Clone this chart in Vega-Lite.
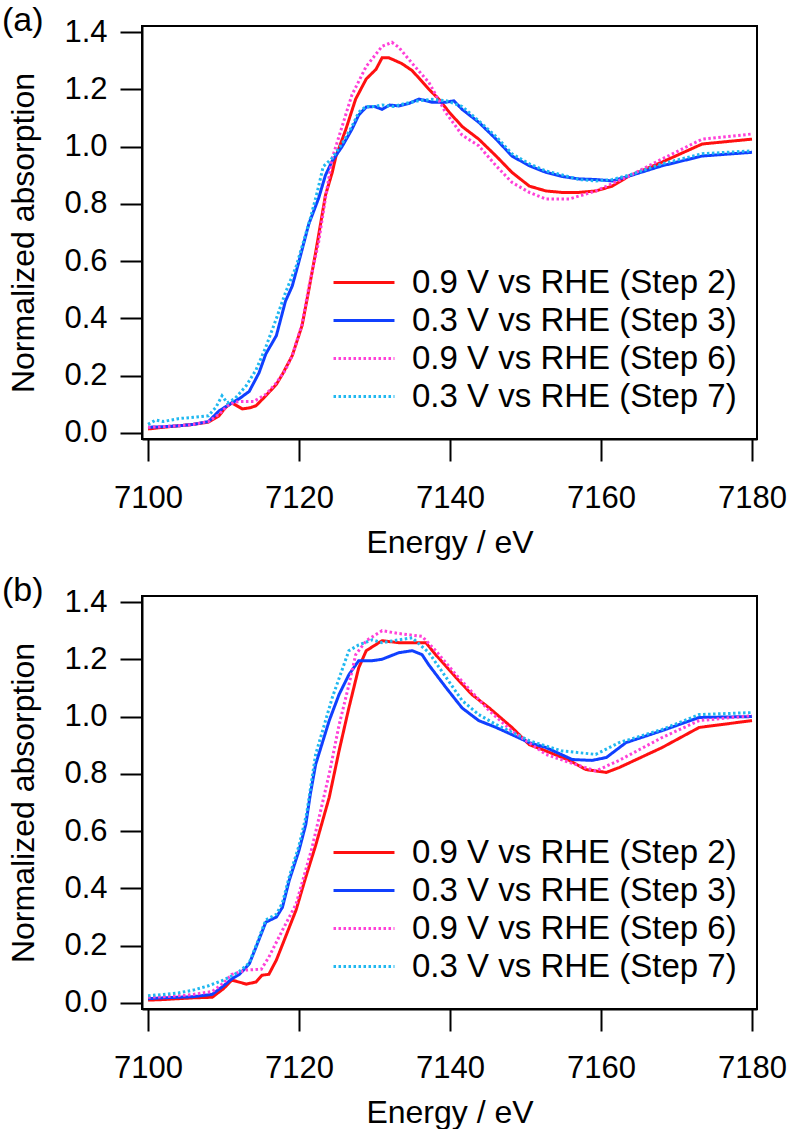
{
  "$schema": "https://vega.github.io/schema/vega-lite/v6.json",
  "autosize": {"type": "pad"},
  "padding": {"left": 0, "top": 3, "right": 0, "bottom": 0},
  "background": "white",
  "spacing": 14,
  "config": {
    "font": "Liberation Sans",
    "view": {"stroke": "black", "strokeWidth": 2},
    "axis": {
      "domainColor": "black", "domainWidth": 2,
      "tickColor": "black", "tickWidth": 2, "tickSize": 22,
      "labelColor": "black", "labelFontSize": 31, "labelFont": "Liberation Sans",
      "titleColor": "black", "titleFontSize": 32, "titleFont": "Liberation Sans", "titleFontWeight": "normal",
      "grid": false
    },
    "legend": {
      "labelFontSize": 33, "labelFont": "Liberation Sans", "labelColor": "black", "labelLimit": 600,
      "symbolType": "M-3,0H3", "symbolSize": 413, "symbolStrokeWidth": 3, "labelOffset": 31.5, "rowPadding": 4
    }
  },
  "datasets": {
    "a": [
      {"series":"0.9 V vs RHE (Step 2)","energy":7100,"absorption":0.014},
      {"series":"0.9 V vs RHE (Step 2)","energy":7102,"absorption":0.02},
      {"series":"0.9 V vs RHE (Step 2)","energy":7104,"absorption":0.025},
      {"series":"0.9 V vs RHE (Step 2)","energy":7106,"absorption":0.03},
      {"series":"0.9 V vs RHE (Step 2)","energy":7108,"absorption":0.038},
      {"series":"0.9 V vs RHE (Step 2)","energy":7109.4,"absorption":0.06},
      {"series":"0.9 V vs RHE (Step 2)","energy":7110.3,"absorption":0.09},
      {"series":"0.9 V vs RHE (Step 2)","energy":7111.1,"absorption":0.105},
      {"series":"0.9 V vs RHE (Step 2)","energy":7112.5,"absorption":0.084},
      {"series":"0.9 V vs RHE (Step 2)","energy":7113.5,"absorption":0.088},
      {"series":"0.9 V vs RHE (Step 2)","energy":7114.3,"absorption":0.095},
      {"series":"0.9 V vs RHE (Step 2)","energy":7115.6,"absorption":0.13},
      {"series":"0.9 V vs RHE (Step 2)","energy":7117,"absorption":0.17},
      {"series":"0.9 V vs RHE (Step 2)","energy":7117.8,"absorption":0.205},
      {"series":"0.9 V vs RHE (Step 2)","energy":7119.1,"absorption":0.27},
      {"series":"0.9 V vs RHE (Step 2)","energy":7120.4,"absorption":0.375},
      {"series":"0.9 V vs RHE (Step 2)","energy":7121.3,"absorption":0.5},
      {"series":"0.9 V vs RHE (Step 2)","energy":7122.2,"absorption":0.63},
      {"series":"0.9 V vs RHE (Step 2)","energy":7123.5,"absorption":0.83},
      {"series":"0.9 V vs RHE (Step 2)","energy":7124.4,"absorption":0.91},
      {"series":"0.9 V vs RHE (Step 2)","energy":7124.9,"absorption":0.967},
      {"series":"0.9 V vs RHE (Step 2)","energy":7126.2,"absorption":1.06},
      {"series":"0.9 V vs RHE (Step 2)","energy":7127.5,"absorption":1.166},
      {"series":"0.9 V vs RHE (Step 2)","energy":7128.9,"absorption":1.236},
      {"series":"0.9 V vs RHE (Step 2)","energy":7130.2,"absorption":1.27},
      {"series":"0.9 V vs RHE (Step 2)","energy":7131,"absorption":1.31},
      {"series":"0.9 V vs RHE (Step 2)","energy":7131.9,"absorption":1.31},
      {"series":"0.9 V vs RHE (Step 2)","energy":7133.6,"absorption":1.29},
      {"series":"0.9 V vs RHE (Step 2)","energy":7135,"absorption":1.265},
      {"series":"0.9 V vs RHE (Step 2)","energy":7137.2,"absorption":1.2},
      {"series":"0.9 V vs RHE (Step 2)","energy":7138.5,"absorption":1.166},
      {"series":"0.9 V vs RHE (Step 2)","energy":7139.9,"absorption":1.12},
      {"series":"0.9 V vs RHE (Step 2)","energy":7141.6,"absorption":1.07},
      {"series":"0.9 V vs RHE (Step 2)","energy":7143.8,"absorption":1.026},
      {"series":"0.9 V vs RHE (Step 2)","energy":7146.1,"absorption":0.967},
      {"series":"0.9 V vs RHE (Step 2)","energy":7148.2,"absorption":0.91},
      {"series":"0.9 V vs RHE (Step 2)","energy":7150.5,"absorption":0.862},
      {"series":"0.9 V vs RHE (Step 2)","energy":7152.7,"absorption":0.845},
      {"series":"0.9 V vs RHE (Step 2)","energy":7154.8,"absorption":0.84},
      {"series":"0.9 V vs RHE (Step 2)","energy":7157.1,"absorption":0.84},
      {"series":"0.9 V vs RHE (Step 2)","energy":7159.3,"absorption":0.845},
      {"series":"0.9 V vs RHE (Step 2)","energy":7161.5,"absorption":0.862},
      {"series":"0.9 V vs RHE (Step 2)","energy":7163.7,"absorption":0.897},
      {"series":"0.9 V vs RHE (Step 2)","energy":7168.1,"absorption":0.946},
      {"series":"0.9 V vs RHE (Step 2)","energy":7173.4,"absorption":1.009},
      {"series":"0.9 V vs RHE (Step 2)","energy":7180,"absorption":1.026},

      {"series":"0.3 V vs RHE (Step 3)","energy":7100,"absorption":0.02},
      {"series":"0.3 V vs RHE (Step 3)","energy":7102,"absorption":0.022},
      {"series":"0.3 V vs RHE (Step 3)","energy":7104,"absorption":0.025},
      {"series":"0.3 V vs RHE (Step 3)","energy":7106,"absorption":0.03},
      {"series":"0.3 V vs RHE (Step 3)","energy":7108,"absorption":0.04},
      {"series":"0.3 V vs RHE (Step 3)","energy":7109.4,"absorption":0.077},
      {"series":"0.3 V vs RHE (Step 3)","energy":7111.1,"absorption":0.105},
      {"series":"0.3 V vs RHE (Step 3)","energy":7112.1,"absorption":0.12},
      {"series":"0.3 V vs RHE (Step 3)","energy":7113.4,"absorption":0.145},
      {"series":"0.3 V vs RHE (Step 3)","energy":7114.7,"absorption":0.21},
      {"series":"0.3 V vs RHE (Step 3)","energy":7115.6,"absorption":0.276},
      {"series":"0.3 V vs RHE (Step 3)","energy":7117,"absorption":0.34},
      {"series":"0.3 V vs RHE (Step 3)","energy":7118.2,"absorption":0.46},
      {"series":"0.3 V vs RHE (Step 3)","energy":7119.1,"absorption":0.513},
      {"series":"0.3 V vs RHE (Step 3)","energy":7120,"absorption":0.6},
      {"series":"0.3 V vs RHE (Step 3)","energy":7121.3,"absorption":0.73},
      {"series":"0.3 V vs RHE (Step 3)","energy":7122.6,"absorption":0.82},
      {"series":"0.3 V vs RHE (Step 3)","energy":7123.5,"absorption":0.9},
      {"series":"0.3 V vs RHE (Step 3)","energy":7124.4,"absorption":0.95},
      {"series":"0.3 V vs RHE (Step 3)","energy":7125.7,"absorption":1.0},
      {"series":"0.3 V vs RHE (Step 3)","energy":7127,"absorption":1.06},
      {"series":"0.3 V vs RHE (Step 3)","energy":7127.9,"absorption":1.11},
      {"series":"0.3 V vs RHE (Step 3)","energy":7128.9,"absorption":1.138},
      {"series":"0.3 V vs RHE (Step 3)","energy":7130,"absorption":1.14},
      {"series":"0.3 V vs RHE (Step 3)","energy":7131,"absorption":1.13},
      {"series":"0.3 V vs RHE (Step 3)","energy":7132,"absorption":1.145},
      {"series":"0.3 V vs RHE (Step 3)","energy":7133.2,"absorption":1.142},
      {"series":"0.3 V vs RHE (Step 3)","energy":7134.5,"absorption":1.15},
      {"series":"0.3 V vs RHE (Step 3)","energy":7135.9,"absorption":1.166},
      {"series":"0.3 V vs RHE (Step 3)","energy":7137.6,"absorption":1.155},
      {"series":"0.3 V vs RHE (Step 3)","energy":7139.5,"absorption":1.155},
      {"series":"0.3 V vs RHE (Step 3)","energy":7140.5,"absorption":1.16},
      {"series":"0.3 V vs RHE (Step 3)","energy":7141.6,"absorption":1.13},
      {"series":"0.3 V vs RHE (Step 3)","energy":7143.8,"absorption":1.085},
      {"series":"0.3 V vs RHE (Step 3)","energy":7146.1,"absorption":1.026},
      {"series":"0.3 V vs RHE (Step 3)","energy":7148.2,"absorption":0.967},
      {"series":"0.3 V vs RHE (Step 3)","energy":7150.5,"absorption":0.933},
      {"series":"0.3 V vs RHE (Step 3)","energy":7152.7,"absorption":0.91},
      {"series":"0.3 V vs RHE (Step 3)","energy":7155,"absorption":0.895},
      {"series":"0.3 V vs RHE (Step 3)","energy":7157.1,"absorption":0.887},
      {"series":"0.3 V vs RHE (Step 3)","energy":7159.3,"absorption":0.885},
      {"series":"0.3 V vs RHE (Step 3)","energy":7161.5,"absorption":0.88},
      {"series":"0.3 V vs RHE (Step 3)","energy":7163.7,"absorption":0.897},
      {"series":"0.3 V vs RHE (Step 3)","energy":7168.1,"absorption":0.933},
      {"series":"0.3 V vs RHE (Step 3)","energy":7173.4,"absorption":0.967},
      {"series":"0.3 V vs RHE (Step 3)","energy":7180,"absorption":0.98},

      {"series":"0.9 V vs RHE (Step 6)","energy":7100,"absorption":0.02},
      {"series":"0.9 V vs RHE (Step 6)","energy":7102,"absorption":0.022},
      {"series":"0.9 V vs RHE (Step 6)","energy":7104,"absorption":0.025},
      {"series":"0.9 V vs RHE (Step 6)","energy":7106,"absorption":0.03},
      {"series":"0.9 V vs RHE (Step 6)","energy":7108,"absorption":0.04},
      {"series":"0.9 V vs RHE (Step 6)","energy":7109.4,"absorption":0.065},
      {"series":"0.9 V vs RHE (Step 6)","energy":7110.5,"absorption":0.095},
      {"series":"0.9 V vs RHE (Step 6)","energy":7111.5,"absorption":0.108},
      {"series":"0.9 V vs RHE (Step 6)","energy":7112.5,"absorption":0.11},
      {"series":"0.9 V vs RHE (Step 6)","energy":7114,"absorption":0.11},
      {"series":"0.9 V vs RHE (Step 6)","energy":7115.6,"absorption":0.135},
      {"series":"0.9 V vs RHE (Step 6)","energy":7117,"absorption":0.175},
      {"series":"0.9 V vs RHE (Step 6)","energy":7118.2,"absorption":0.22},
      {"series":"0.9 V vs RHE (Step 6)","energy":7119.1,"absorption":0.27},
      {"series":"0.9 V vs RHE (Step 6)","energy":7120.4,"absorption":0.38},
      {"series":"0.9 V vs RHE (Step 6)","energy":7121.3,"absorption":0.51},
      {"series":"0.9 V vs RHE (Step 6)","energy":7122.6,"absorption":0.667},
      {"series":"0.9 V vs RHE (Step 6)","energy":7123.5,"absorption":0.82},
      {"series":"0.9 V vs RHE (Step 6)","energy":7124.4,"absorption":0.96},
      {"series":"0.9 V vs RHE (Step 6)","energy":7125.7,"absorption":1.07},
      {"series":"0.9 V vs RHE (Step 6)","energy":7127,"absorption":1.18},
      {"series":"0.9 V vs RHE (Step 6)","energy":7128.9,"absorption":1.28},
      {"series":"0.9 V vs RHE (Step 6)","energy":7131,"absorption":1.35},
      {"series":"0.9 V vs RHE (Step 6)","energy":7132.3,"absorption":1.364},
      {"series":"0.9 V vs RHE (Step 6)","energy":7133.2,"absorption":1.347},
      {"series":"0.9 V vs RHE (Step 6)","energy":7135,"absorption":1.29},
      {"series":"0.9 V vs RHE (Step 6)","energy":7137.2,"absorption":1.224},
      {"series":"0.9 V vs RHE (Step 6)","energy":7139.4,"absorption":1.12},
      {"series":"0.9 V vs RHE (Step 6)","energy":7141.6,"absorption":1.04},
      {"series":"0.9 V vs RHE (Step 6)","energy":7143.8,"absorption":1.003},
      {"series":"0.9 V vs RHE (Step 6)","energy":7146.1,"absorption":0.933},
      {"series":"0.9 V vs RHE (Step 6)","energy":7148.2,"absorption":0.875},
      {"series":"0.9 V vs RHE (Step 6)","energy":7150.5,"absorption":0.84},
      {"series":"0.9 V vs RHE (Step 6)","energy":7152.7,"absorption":0.817},
      {"series":"0.9 V vs RHE (Step 6)","energy":7155.8,"absorption":0.817},
      {"series":"0.9 V vs RHE (Step 6)","energy":7159.3,"absorption":0.845},
      {"series":"0.9 V vs RHE (Step 6)","energy":7163.7,"absorption":0.897},
      {"series":"0.9 V vs RHE (Step 6)","energy":7168.1,"absorption":0.957},
      {"series":"0.9 V vs RHE (Step 6)","energy":7173.4,"absorption":1.026},
      {"series":"0.9 V vs RHE (Step 6)","energy":7180,"absorption":1.044},

      {"series":"0.3 V vs RHE (Step 7)","energy":7100,"absorption":0.03},
      {"series":"0.3 V vs RHE (Step 7)","energy":7101,"absorption":0.045},
      {"series":"0.3 V vs RHE (Step 7)","energy":7102,"absorption":0.04},
      {"series":"0.3 V vs RHE (Step 7)","energy":7104,"absorption":0.05},
      {"series":"0.3 V vs RHE (Step 7)","energy":7106,"absorption":0.055},
      {"series":"0.3 V vs RHE (Step 7)","energy":7108,"absorption":0.06},
      {"series":"0.3 V vs RHE (Step 7)","energy":7109,"absorption":0.09},
      {"series":"0.3 V vs RHE (Step 7)","energy":7109.8,"absorption":0.13},
      {"series":"0.3 V vs RHE (Step 7)","energy":7110.5,"absorption":0.105},
      {"series":"0.3 V vs RHE (Step 7)","energy":7111.5,"absorption":0.12},
      {"series":"0.3 V vs RHE (Step 7)","energy":7113,"absorption":0.165},
      {"series":"0.3 V vs RHE (Step 7)","energy":7114.3,"absorption":0.22},
      {"series":"0.3 V vs RHE (Step 7)","energy":7115.6,"absorption":0.3},
      {"series":"0.3 V vs RHE (Step 7)","energy":7117,"absorption":0.4},
      {"series":"0.3 V vs RHE (Step 7)","energy":7118.2,"absorption":0.49},
      {"series":"0.3 V vs RHE (Step 7)","energy":7119.6,"absorption":0.58},
      {"series":"0.3 V vs RHE (Step 7)","energy":7120.5,"absorption":0.66},
      {"series":"0.3 V vs RHE (Step 7)","energy":7121.5,"absorption":0.75},
      {"series":"0.3 V vs RHE (Step 7)","energy":7122.4,"absorption":0.84},
      {"series":"0.3 V vs RHE (Step 7)","energy":7123.2,"absorption":0.93},
      {"series":"0.3 V vs RHE (Step 7)","energy":7124.4,"absorption":0.96},
      {"series":"0.3 V vs RHE (Step 7)","energy":7125.7,"absorption":1.01},
      {"series":"0.3 V vs RHE (Step 7)","energy":7127,"absorption":1.07},
      {"series":"0.3 V vs RHE (Step 7)","energy":7127.9,"absorption":1.12},
      {"series":"0.3 V vs RHE (Step 7)","energy":7128.9,"absorption":1.14},
      {"series":"0.3 V vs RHE (Step 7)","energy":7130,"absorption":1.14},
      {"series":"0.3 V vs RHE (Step 7)","energy":7131,"absorption":1.145},
      {"series":"0.3 V vs RHE (Step 7)","energy":7132.5,"absorption":1.14},
      {"series":"0.3 V vs RHE (Step 7)","energy":7134,"absorption":1.15},
      {"series":"0.3 V vs RHE (Step 7)","energy":7135.9,"absorption":1.16},
      {"series":"0.3 V vs RHE (Step 7)","energy":7137.6,"absorption":1.165},
      {"series":"0.3 V vs RHE (Step 7)","energy":7139.5,"absorption":1.16},
      {"series":"0.3 V vs RHE (Step 7)","energy":7141.6,"absorption":1.14},
      {"series":"0.3 V vs RHE (Step 7)","energy":7143.8,"absorption":1.09},
      {"series":"0.3 V vs RHE (Step 7)","energy":7146.1,"absorption":1.035},
      {"series":"0.3 V vs RHE (Step 7)","energy":7148.2,"absorption":0.975},
      {"series":"0.3 V vs RHE (Step 7)","energy":7150.5,"absorption":0.94},
      {"series":"0.3 V vs RHE (Step 7)","energy":7152.7,"absorption":0.915},
      {"series":"0.3 V vs RHE (Step 7)","energy":7155,"absorption":0.9},
      {"series":"0.3 V vs RHE (Step 7)","energy":7157.1,"absorption":0.885},
      {"series":"0.3 V vs RHE (Step 7)","energy":7159.3,"absorption":0.88},
      {"series":"0.3 V vs RHE (Step 7)","energy":7161.5,"absorption":0.885},
      {"series":"0.3 V vs RHE (Step 7)","energy":7163.7,"absorption":0.9},
      {"series":"0.3 V vs RHE (Step 7)","energy":7168.1,"absorption":0.94},
      {"series":"0.3 V vs RHE (Step 7)","energy":7173.4,"absorption":0.975},
      {"series":"0.3 V vs RHE (Step 7)","energy":7180,"absorption":0.985}
    ],
    "b": [
      {"series":"0.9 V vs RHE (Step 2)","energy":7100,"absorption":0.01},
      {"series":"0.9 V vs RHE (Step 2)","energy":7102,"absorption":0.012},
      {"series":"0.9 V vs RHE (Step 2)","energy":7104,"absorption":0.015},
      {"series":"0.9 V vs RHE (Step 2)","energy":7106,"absorption":0.018},
      {"series":"0.9 V vs RHE (Step 2)","energy":7108.5,"absorption":0.02},
      {"series":"0.9 V vs RHE (Step 2)","energy":7110,"absorption":0.05},
      {"series":"0.9 V vs RHE (Step 2)","energy":7111.1,"absorption":0.08},
      {"series":"0.9 V vs RHE (Step 2)","energy":7113,"absorption":0.066},
      {"series":"0.9 V vs RHE (Step 2)","energy":7114.3,"absorption":0.073},
      {"series":"0.9 V vs RHE (Step 2)","energy":7115.1,"absorption":0.097},
      {"series":"0.9 V vs RHE (Step 2)","energy":7116,"absorption":0.1},
      {"series":"0.9 V vs RHE (Step 2)","energy":7117,"absorption":0.15},
      {"series":"0.9 V vs RHE (Step 2)","energy":7118.2,"absorption":0.23},
      {"series":"0.9 V vs RHE (Step 2)","energy":7119.6,"absorption":0.324},
      {"series":"0.9 V vs RHE (Step 2)","energy":7120.9,"absorption":0.44},
      {"series":"0.9 V vs RHE (Step 2)","energy":7122.2,"absorption":0.55},
      {"series":"0.9 V vs RHE (Step 2)","energy":7124,"absorption":0.718},
      {"series":"0.9 V vs RHE (Step 2)","energy":7125.3,"absorption":0.88},
      {"series":"0.9 V vs RHE (Step 2)","energy":7126.6,"absorption":1.03},
      {"series":"0.9 V vs RHE (Step 2)","energy":7127.9,"absorption":1.17},
      {"series":"0.9 V vs RHE (Step 2)","energy":7128.9,"absorption":1.23},
      {"series":"0.9 V vs RHE (Step 2)","energy":7131,"absorption":1.265},
      {"series":"0.9 V vs RHE (Step 2)","energy":7133.2,"absorption":1.258},
      {"series":"0.9 V vs RHE (Step 2)","energy":7136.8,"absorption":1.258},
      {"series":"0.9 V vs RHE (Step 2)","energy":7138.1,"absorption":1.216},
      {"series":"0.9 V vs RHE (Step 2)","energy":7140.8,"absorption":1.136},
      {"series":"0.9 V vs RHE (Step 2)","energy":7142.9,"absorption":1.077},
      {"series":"0.9 V vs RHE (Step 2)","energy":7145.2,"absorption":1.03},
      {"series":"0.9 V vs RHE (Step 2)","energy":7148.2,"absorption":0.962},
      {"series":"0.9 V vs RHE (Step 2)","energy":7150.5,"absorption":0.902},
      {"series":"0.9 V vs RHE (Step 2)","energy":7152.7,"absorption":0.88},
      {"series":"0.9 V vs RHE (Step 2)","energy":7155.8,"absorption":0.847},
      {"series":"0.9 V vs RHE (Step 2)","energy":7158,"absorption":0.815},
      {"series":"0.9 V vs RHE (Step 2)","energy":7160.7,"absorption":0.805},
      {"series":"0.9 V vs RHE (Step 2)","energy":7162.4,"absorption":0.822},
      {"series":"0.9 V vs RHE (Step 2)","energy":7168.1,"absorption":0.892},
      {"series":"0.9 V vs RHE (Step 2)","energy":7173,"absorption":0.962},
      {"series":"0.9 V vs RHE (Step 2)","energy":7180,"absorption":0.986},

      {"series":"0.3 V vs RHE (Step 3)","energy":7100,"absorption":0.015},
      {"series":"0.3 V vs RHE (Step 3)","energy":7102,"absorption":0.018},
      {"series":"0.3 V vs RHE (Step 3)","energy":7104,"absorption":0.02},
      {"series":"0.3 V vs RHE (Step 3)","energy":7106,"absorption":0.022},
      {"series":"0.3 V vs RHE (Step 3)","energy":7108.5,"absorption":0.03},
      {"series":"0.3 V vs RHE (Step 3)","energy":7110,"absorption":0.06},
      {"series":"0.3 V vs RHE (Step 3)","energy":7111.1,"absorption":0.084},
      {"series":"0.3 V vs RHE (Step 3)","energy":7112.1,"absorption":0.1},
      {"series":"0.3 V vs RHE (Step 3)","energy":7113.4,"absorption":0.136},
      {"series":"0.3 V vs RHE (Step 3)","energy":7114.3,"absorption":0.195},
      {"series":"0.3 V vs RHE (Step 3)","energy":7115.6,"absorption":0.282},
      {"series":"0.3 V vs RHE (Step 3)","energy":7117,"absorption":0.3},
      {"series":"0.3 V vs RHE (Step 3)","energy":7117.8,"absorption":0.334},
      {"series":"0.3 V vs RHE (Step 3)","energy":7118.7,"absorption":0.428},
      {"series":"0.3 V vs RHE (Step 3)","energy":7120,"absorption":0.533},
      {"series":"0.3 V vs RHE (Step 3)","energy":7120.9,"absorption":0.624},
      {"series":"0.3 V vs RHE (Step 3)","energy":7121.5,"absorption":0.73},
      {"series":"0.3 V vs RHE (Step 3)","energy":7122.2,"absorption":0.833},
      {"series":"0.3 V vs RHE (Step 3)","energy":7124,"absorption":0.986},
      {"series":"0.3 V vs RHE (Step 3)","energy":7125.3,"absorption":1.077},
      {"series":"0.3 V vs RHE (Step 3)","energy":7126.6,"absorption":1.146},
      {"series":"0.3 V vs RHE (Step 3)","energy":7127.9,"absorption":1.195},
      {"series":"0.3 V vs RHE (Step 3)","energy":7129.7,"absorption":1.195},
      {"series":"0.3 V vs RHE (Step 3)","energy":7131,"absorption":1.2},
      {"series":"0.3 V vs RHE (Step 3)","energy":7133.2,"absorption":1.223},
      {"series":"0.3 V vs RHE (Step 3)","energy":7135,"absorption":1.23},
      {"series":"0.3 V vs RHE (Step 3)","energy":7136.3,"absorption":1.216},
      {"series":"0.3 V vs RHE (Step 3)","energy":7137.2,"absorption":1.18},
      {"series":"0.3 V vs RHE (Step 3)","energy":7139.5,"absorption":1.1},
      {"series":"0.3 V vs RHE (Step 3)","energy":7141.6,"absorption":1.03},
      {"series":"0.3 V vs RHE (Step 3)","energy":7143.8,"absorption":0.986},
      {"series":"0.3 V vs RHE (Step 3)","energy":7146.1,"absorption":0.962},
      {"series":"0.3 V vs RHE (Step 3)","energy":7148.2,"absorption":0.937},
      {"series":"0.3 V vs RHE (Step 3)","energy":7150.5,"absorption":0.909},
      {"series":"0.3 V vs RHE (Step 3)","energy":7152.7,"absorption":0.892},
      {"series":"0.3 V vs RHE (Step 3)","energy":7156.2,"absorption":0.85},
      {"series":"0.3 V vs RHE (Step 3)","energy":7158.8,"absorption":0.847},
      {"series":"0.3 V vs RHE (Step 3)","energy":7160.7,"absorption":0.857},
      {"series":"0.3 V vs RHE (Step 3)","energy":7163.3,"absorption":0.909},
      {"series":"0.3 V vs RHE (Step 3)","energy":7168.1,"absorption":0.951},
      {"series":"0.3 V vs RHE (Step 3)","energy":7173,"absorption":0.997},
      {"series":"0.3 V vs RHE (Step 3)","energy":7180,"absorption":1.0},

      {"series":"0.9 V vs RHE (Step 6)","energy":7100,"absorption":0.02},
      {"series":"0.9 V vs RHE (Step 6)","energy":7102,"absorption":0.022},
      {"series":"0.9 V vs RHE (Step 6)","energy":7104,"absorption":0.025},
      {"series":"0.9 V vs RHE (Step 6)","energy":7106,"absorption":0.03},
      {"series":"0.9 V vs RHE (Step 6)","energy":7108.5,"absorption":0.04},
      {"series":"0.9 V vs RHE (Step 6)","energy":7110,"absorption":0.07},
      {"series":"0.9 V vs RHE (Step 6)","energy":7111.1,"absorption":0.1},
      {"series":"0.9 V vs RHE (Step 6)","energy":7113,"absorption":0.115},
      {"series":"0.9 V vs RHE (Step 6)","energy":7115,"absorption":0.118},
      {"series":"0.9 V vs RHE (Step 6)","energy":7116,"absorption":0.16},
      {"series":"0.9 V vs RHE (Step 6)","energy":7117.8,"absorption":0.254},
      {"series":"0.9 V vs RHE (Step 6)","energy":7119.6,"absorption":0.345},
      {"series":"0.9 V vs RHE (Step 6)","energy":7121.7,"absorption":0.54},
      {"series":"0.9 V vs RHE (Step 6)","energy":7124,"absorption":0.8},
      {"series":"0.9 V vs RHE (Step 6)","energy":7125.3,"absorption":0.97},
      {"series":"0.9 V vs RHE (Step 6)","energy":7126.6,"absorption":1.11},
      {"series":"0.9 V vs RHE (Step 6)","energy":7127.5,"absorption":1.216},
      {"series":"0.9 V vs RHE (Step 6)","energy":7128.9,"absorption":1.265},
      {"series":"0.9 V vs RHE (Step 6)","energy":7131,"absorption":1.3},
      {"series":"0.9 V vs RHE (Step 6)","energy":7133.2,"absorption":1.29},
      {"series":"0.9 V vs RHE (Step 6)","energy":7136.3,"absorption":1.28},
      {"series":"0.9 V vs RHE (Step 6)","energy":7138.1,"absorption":1.23},
      {"series":"0.9 V vs RHE (Step 6)","energy":7140.8,"absorption":1.146},
      {"series":"0.9 V vs RHE (Step 6)","energy":7145.2,"absorption":1.02},
      {"series":"0.9 V vs RHE (Step 6)","energy":7148.2,"absorption":0.95},
      {"series":"0.9 V vs RHE (Step 6)","energy":7152.7,"absorption":0.868},
      {"series":"0.9 V vs RHE (Step 6)","energy":7155.8,"absorption":0.84},
      {"series":"0.9 V vs RHE (Step 6)","energy":7159.3,"absorption":0.81},
      {"series":"0.9 V vs RHE (Step 6)","energy":7162.4,"absorption":0.847},
      {"series":"0.9 V vs RHE (Step 6)","energy":7168.1,"absorption":0.927},
      {"series":"0.9 V vs RHE (Step 6)","energy":7173,"absorption":0.986},
      {"series":"0.9 V vs RHE (Step 6)","energy":7180,"absorption":1.003},

      {"series":"0.3 V vs RHE (Step 7)","energy":7100,"absorption":0.025},
      {"series":"0.3 V vs RHE (Step 7)","energy":7102,"absorption":0.03},
      {"series":"0.3 V vs RHE (Step 7)","energy":7104,"absorption":0.035},
      {"series":"0.3 V vs RHE (Step 7)","energy":7106,"absorption":0.045},
      {"series":"0.3 V vs RHE (Step 7)","energy":7108,"absorption":0.06},
      {"series":"0.3 V vs RHE (Step 7)","energy":7110,"absorption":0.08},
      {"series":"0.3 V vs RHE (Step 7)","energy":7111.1,"absorption":0.095},
      {"series":"0.3 V vs RHE (Step 7)","energy":7112.1,"absorption":0.11},
      {"series":"0.3 V vs RHE (Step 7)","energy":7113.4,"absorption":0.14},
      {"series":"0.3 V vs RHE (Step 7)","energy":7114.3,"absorption":0.2},
      {"series":"0.3 V vs RHE (Step 7)","energy":7115.6,"absorption":0.29},
      {"series":"0.3 V vs RHE (Step 7)","energy":7117,"absorption":0.31},
      {"series":"0.3 V vs RHE (Step 7)","energy":7117.8,"absorption":0.35},
      {"series":"0.3 V vs RHE (Step 7)","energy":7118.7,"absorption":0.44},
      {"series":"0.3 V vs RHE (Step 7)","energy":7120,"absorption":0.55},
      {"series":"0.3 V vs RHE (Step 7)","energy":7121,"absorption":0.66},
      {"series":"0.3 V vs RHE (Step 7)","energy":7122.2,"absorption":0.868},
      {"series":"0.3 V vs RHE (Step 7)","energy":7124.4,"absorption":1.066},
      {"series":"0.3 V vs RHE (Step 7)","energy":7126.6,"absorption":1.23},
      {"series":"0.3 V vs RHE (Step 7)","energy":7127.9,"absorption":1.25},
      {"series":"0.3 V vs RHE (Step 7)","energy":7129.7,"absorption":1.268},
      {"series":"0.3 V vs RHE (Step 7)","energy":7131,"absorption":1.258},
      {"series":"0.3 V vs RHE (Step 7)","energy":7133.2,"absorption":1.268},
      {"series":"0.3 V vs RHE (Step 7)","energy":7135,"absorption":1.275},
      {"series":"0.3 V vs RHE (Step 7)","energy":7137.2,"absorption":1.223},
      {"series":"0.3 V vs RHE (Step 7)","energy":7139.5,"absorption":1.136},
      {"series":"0.3 V vs RHE (Step 7)","energy":7141.6,"absorption":1.056},
      {"series":"0.3 V vs RHE (Step 7)","energy":7143.8,"absorption":1.007},
      {"series":"0.3 V vs RHE (Step 7)","energy":7146.1,"absorption":0.972},
      {"series":"0.3 V vs RHE (Step 7)","energy":7150.5,"absorption":0.916},
      {"series":"0.3 V vs RHE (Step 7)","energy":7154.8,"absorption":0.88},
      {"series":"0.3 V vs RHE (Step 7)","energy":7159.3,"absorption":0.868},
      {"series":"0.3 V vs RHE (Step 7)","energy":7162.4,"absorption":0.909},
      {"series":"0.3 V vs RHE (Step 7)","energy":7168.1,"absorption":0.955},
      {"series":"0.3 V vs RHE (Step 7)","energy":7173,"absorption":1.007},
      {"series":"0.3 V vs RHE (Step 7)","energy":7180,"absorption":1.014}
    ]
  },
  "resolve": {
    "scale": {"color": "independent", "strokeDash": "independent"},
    "legend": {"color": "independent", "strokeDash": "independent"}
  },
  "vconcat": [
    {
      "data": {"name": "a"},
      "width": 615,
      "height": 413,
      "title": {"text": "(a)", "anchor": "start", "frame": "bounds", "fontSize": 34, "fontWeight": "normal", "font": "Liberation Sans", "color": "black", "baseline": "alphabetic", "offset": -9, "dx": -6, "dy": 40},
      "mark": {"type": "line", "strokeWidth": 3, "clip": true},
      "encoding": {
        "x": {"field": "energy", "type": "quantitative", "scale": {"domain": [7099.2, 7180.66], "nice": false, "zero": false},
              "axis": {"title": "Energy / eV", "values": [7100, 7120, 7140, 7160, 7180], "format": "d", "labelPadding": 22, "titlePadding": 14}},
        "y": {"field": "absorption", "type": "quantitative", "scale": {"domain": [-0.021, 1.421], "nice": false, "zero": false},
              "axis": {"title": "Normalized absorption", "values": [0, 0.2, 0.4, 0.6, 0.8, 1.0, 1.2, 1.4], "format": ".1f", "labelPadding": 13, "titlePadding": 23}},
        "color": {"field": "series", "type": "nominal",
                  "scale": {"domain": ["0.9 V vs RHE (Step 2)", "0.3 V vs RHE (Step 3)", "0.9 V vs RHE (Step 6)", "0.3 V vs RHE (Step 7)"], "range": ["#ff1010", "#1040ff", "#ff40d8", "#20b8f0"]},
                  "legend": {"title": null, "orient": "none", "legendX": 205.5, "legendY": 240}},
        "strokeDash": {"field": "series", "type": "nominal",
                  "scale": {"domain": ["0.9 V vs RHE (Step 2)", "0.3 V vs RHE (Step 3)", "0.9 V vs RHE (Step 6)", "0.3 V vs RHE (Step 7)"], "range": [[1, 0], [1, 0], [2.5, 2.5], [2.5, 2.5]]},
                  "legend": {"title": null, "orient": "none", "legendX": 205.5, "legendY": 240}}
      }
    },
    {
      "data": {"name": "b"},
      "width": 615,
      "height": 413,
      "title": {"text": "(b)", "anchor": "start", "frame": "bounds", "fontSize": 34, "fontWeight": "normal", "font": "Liberation Sans", "color": "black", "baseline": "alphabetic", "offset": -9, "dx": -6, "dy": 40},
      "mark": {"type": "line", "strokeWidth": 3, "clip": true},
      "encoding": {
        "x": {"field": "energy", "type": "quantitative", "scale": {"domain": [7099.2, 7180.66], "nice": false, "zero": false},
              "axis": {"title": "Energy / eV", "values": [7100, 7120, 7140, 7160, 7180], "format": "d", "labelPadding": 22, "titlePadding": 14}},
        "y": {"field": "absorption", "type": "quantitative", "scale": {"domain": [-0.021, 1.421], "nice": false, "zero": false},
              "axis": {"title": "Normalized absorption", "values": [0, 0.2, 0.4, 0.6, 0.8, 1.0, 1.2, 1.4], "format": ".1f", "labelPadding": 13, "titlePadding": 23}},
        "color": {"field": "series", "type": "nominal",
                  "scale": {"domain": ["0.9 V vs RHE (Step 2)", "0.3 V vs RHE (Step 3)", "0.9 V vs RHE (Step 6)", "0.3 V vs RHE (Step 7)"], "range": ["#ff1010", "#1040ff", "#ff40d8", "#20b8f0"]},
                  "legend": {"title": null, "orient": "none", "legendX": 205.5, "legendY": 240}},
        "strokeDash": {"field": "series", "type": "nominal",
                  "scale": {"domain": ["0.9 V vs RHE (Step 2)", "0.3 V vs RHE (Step 3)", "0.9 V vs RHE (Step 6)", "0.3 V vs RHE (Step 7)"], "range": [[1, 0], [1, 0], [2.5, 2.5], [2.5, 2.5]]},
                  "legend": {"title": null, "orient": "none", "legendX": 205.5, "legendY": 240}}
      }
    }
  ]
}
